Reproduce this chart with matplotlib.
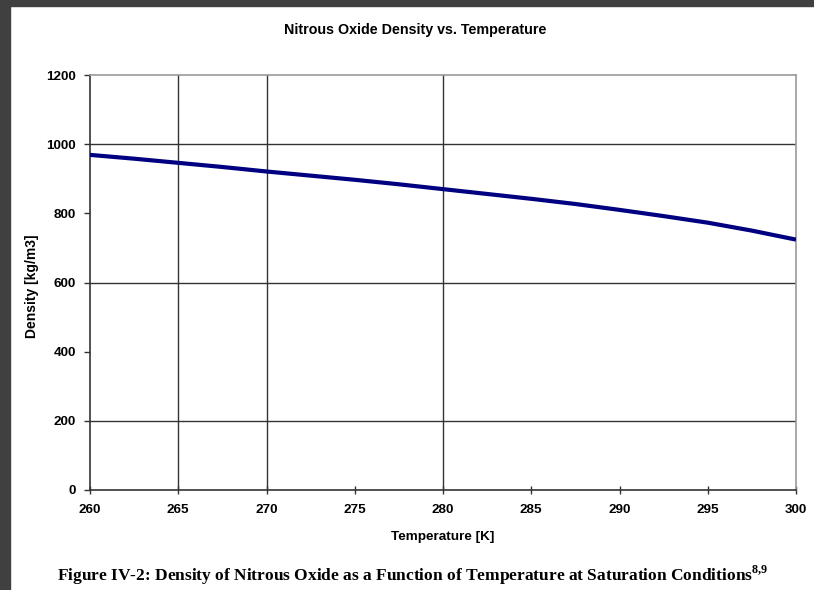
import matplotlib
matplotlib.use("Agg")
import matplotlib.pyplot as plt
from matplotlib.patches import Rectangle

temperature = [260, 262.5, 265, 267.5, 270, 272.5, 275, 277.5, 280, 282.5, 285,
               287.5, 290, 292.5, 295, 297.5, 300]
density = [969, 958, 946, 934, 921, 909, 897, 884, 870, 856, 842,
           827, 810, 792, 773, 750, 724]
x_ticks = [260, 265, 270, 275, 280, 285, 290, 295, 300]
y_ticks = [0, 200, 400, 600, 800, 1000, 1200]
vgrid = [265, 270, 280]
hgrid = [200, 600, 1000]

plt.rcParams['font.family'] = ['Liberation Sans', 'DejaVu Sans']
plt.rcParams['mathtext.fontset'] = 'custom'
plt.rcParams['mathtext.bf'] = 'Liberation Serif:bold'
plt.rcParams['mathtext.rm'] = 'Liberation Serif'

fig = plt.figure(figsize=(8.14, 5.90), dpi=100)
fig.patch.set_facecolor('white')
fig.add_artist(Rectangle((0, 0), 10/814, 1, transform=fig.transFigure, color='#404040', zorder=10))
fig.add_artist(Rectangle((0, 1-6/590), 1, 6/590, transform=fig.transFigure, color='#404040', zorder=10))

ax = fig.add_axes([90/814, 1-490/590, 706/814, 415/590])
for g in vgrid:
    ax.axvline(g, color='#333333', lw=1.0, zorder=1)
for g in hgrid:
    ax.axhline(g, color='#333333', lw=1.0, zorder=1)

ax.plot(temperature, density, color='#000080', lw=3.0, zorder=3, solid_capstyle='butt')

ax.set_xlim(260, 300)
ax.set_ylim(0, 1200)
ax.set_xticks(x_ticks)
ax.set_yticks(y_ticks)
ax.set_xticklabels([str(t) for t in x_ticks], fontweight='bold', fontsize=9.7)
ax.set_yticklabels([str(t) for t in y_ticks], fontweight='bold', fontsize=9.7)
ax.tick_params(axis='x', direction='inout', length=6, width=1, pad=7, color='#333333')
ax.tick_params(axis='y', direction='out', length=4, width=1, pad=6, color='#333333')

ax.spines['left'].set_color('#333333')
ax.spines['bottom'].set_color('#333333')
ax.spines['top'].set_color('#999999')
ax.spines['right'].set_color('#999999')
for s in ax.spines.values():
    s.set_linewidth(1.2)

fig.text(415/814, 1-30/590, 'Nitrous Oxide Density vs. Temperature', ha='center', va='center',
         fontweight='bold', fontsize=10.3)
fig.text(443/814, 1-537/590, 'Temperature [K]', ha='center', va='center', fontweight='bold', fontsize=9.7)
fig.text(32/814, 1-286/590, 'Density [kg/m3]', ha='center', va='center', rotation=90,
         fontweight='bold', fontsize=10)
fig.text(413/814, 1-575/590,
         r'Figure IV-2: Density of Nitrous Oxide as a Function of Temperature at Saturation Conditions$^{\mathbf{8{,}9}}$',
         ha='center', va='center', fontweight='bold', fontsize=12.5,
         family=['Liberation Serif', 'DejaVu Serif'])

fig.savefig('out.png', dpi=100)
